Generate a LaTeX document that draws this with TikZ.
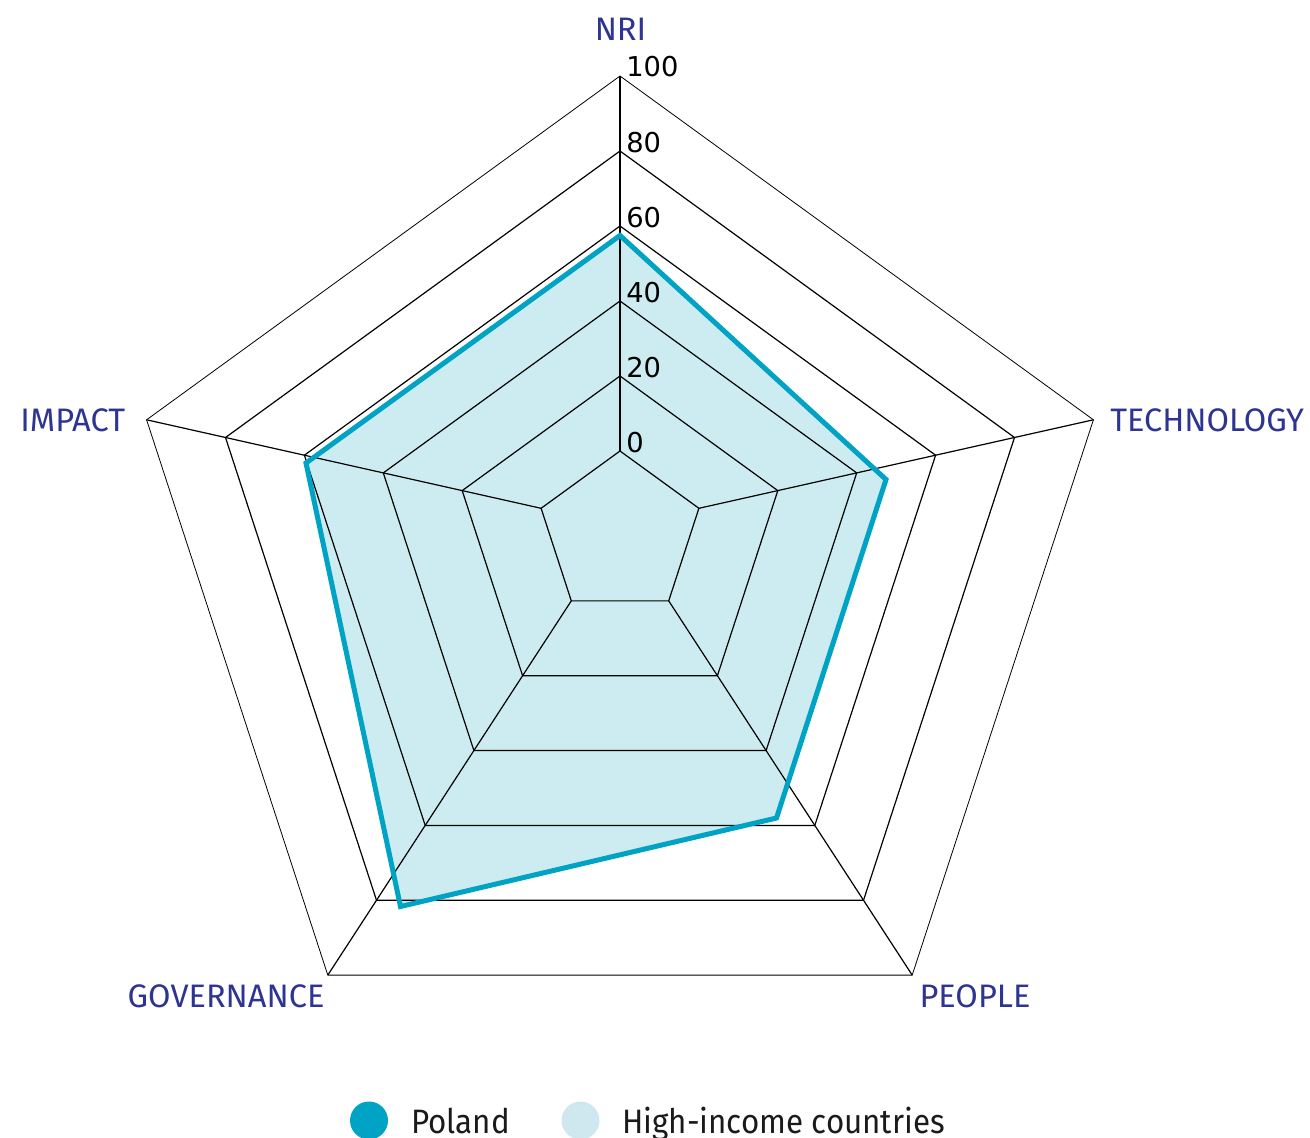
\documentclass[tikz,border=0pt]{standalone}
\usepackage{fontspec}
\setmainfont{Fira Sans}
\newfontfamily\legfont[FakeStretch=0.925]{Fira Sans}
\newfontfamily\tickfont{DejaVu Sans}
\definecolor{navy}{RGB}{46,52,145}
\definecolor{polblue}{RGB}{0,163,196}
\definecolor{hifill}{RGB}{205,236,241}
\definecolor{legfill}{RGB}{207,231,238}
\definecolor{legtext}{RGB}{26,26,26}
\begin{document}
\begin{tikzpicture}[x=0.75pt,y=-0.75pt,
  gridline/.style={black,line width=0.9pt,line join=miter},
  outergrid/.style={black,line width=0.6pt,line join=miter},
  axislabel/.style={font=\fontsize{24.4}{28}\selectfont,text=navy,inner sep=0pt},
  ticklabel/.style={font=\tickfont\fontsize{20.5}{24}\selectfont,text=black,inner sep=0pt,anchor=base west},
  legendtext/.style={font=\legfont\fontsize{25.4}{30}\selectfont,text=legtext,inner sep=0pt,anchor=base west},
  series/.style={polblue,line width=3.75pt,line join=miter},
  legdot/.style={circle,inner sep=0pt,minimum size=28.5pt}]
\useasboundingbox (0,0) rectangle (1310,1138);
% data polygon
\coordinate (P1) at (620,235.5);
\coordinate (P2) at (886,479.5);
\coordinate (P3) at (776.5,818);
\coordinate (P4) at (400.5,906.5);
\coordinate (P5) at (306,463);
\fill[hifill] (P1) -- (P2) -- (P3) -- (P4) -- (P5) -- cycle;
% rings
\foreach \k in {1,...,5} {
  \draw[gridline] (620,{526-75*\k}) -- ({620+78.9*\k},{526-17.7*\k})
    -- ({620+48.7*\k},{526+74.85*\k}) -- ({620-48.7*\k},{526+74.85*\k})
    -- ({620-78.9*\k},{526-17.7*\k}) -- cycle;
}
\draw[outergrid] (620,76) -- ({620+78.9*6},{526-17.7*6})
    -- ({620+48.7*6},{526+74.85*6}) -- ({620-48.7*6},{526+74.85*6})
    -- ({620-78.9*6},{526-17.7*6}) -- cycle;
% axes
\draw[gridline] (620,451) -- (620,76);
\draw[gridline] (698.9,508.3) -- ({620+78.9*6},{526-17.7*6});
\draw[gridline] (668.7,600.85) -- ({620+48.7*6},{526+74.85*6});
\draw[gridline] (571.3,600.85) -- ({620-48.7*6},{526+74.85*6});
\draw[gridline] (541.1,508.3) -- ({620-78.9*6},{526-17.7*6});
% series outline
\draw[series] (P1) -- (P2) -- (P3) -- (P4) -- (P5) -- cycle;
% tick labels
\foreach \v [count=\k] in {0,20,40,60,80,100} {
  \node[ticklabel] (t\v) at (626,{527-75*\k}) {\v};
}
% axis labels
\node[axislabel,anchor=base] (nri) at (620.5,40.5) {NRI};
\node[axislabel,anchor=base west] (tech) at (1110,431.5) {TECHNOLOGY};
\node[axislabel,anchor=base] (people) at (975,1007.3) {PEOPLE};
\node[axislabel,anchor=base] (gov) at (226,1007.3) {GOVERNANCE};
\node[axislabel,anchor=base east] (impact) at (125.5,431.5) {IMPACT};
% legend
\node[legdot,fill=polblue] (legP) at (369,1120.5) {};
\node[legendtext] (legPt) at (411,1133) {Poland};
\node[legdot,fill=legfill] (legH) at (580.5,1120.5) {};
\node[legendtext] (legHt) at (622,1133) {High-income countries};
\end{tikzpicture}
\end{document}
